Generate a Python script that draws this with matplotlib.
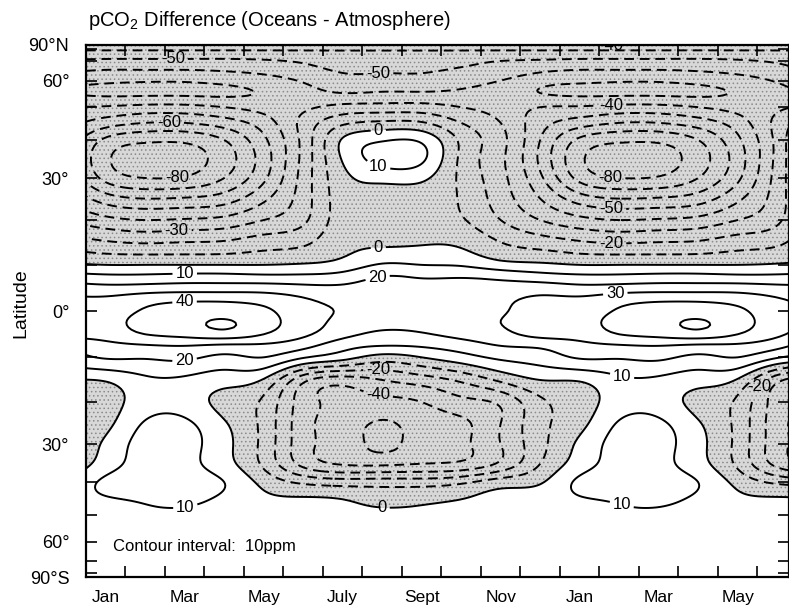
import sys
import numpy as np
import matplotlib
matplotlib.use("Agg")
import matplotlib.pyplot as plt

plt.rcParams["font.family"] = ["Liberation Sans", "DejaVu Sans"]
plt.rcParams["mathtext.fontset"] = "custom"
plt.rcParams["mathtext.rm"] = "Liberation Sans"
plt.rcParams["hatch.color"] = "#8a8a8a"
plt.rcParams["hatch.linewidth"] = 0.6

# latitude rows (deg), monthly climatology columns (mid-month), ppm
lats = [90, 85, 80, 75, 70, 65, 60, 55,
        50, 45, 40, 35, 30, 25, 20, 15,
        10, 7.5, 5, 2.5, 0, -2.5, -5, -7.5, -10,
        -15, -20, -25, -30, -35, -40, -45, -50, -55, -60, -70, -80, -90]

jan = [-38, -44, -48, -53, -48, -40, -32, -28,
       -41, -55, -72, -78, -73, -55, -37, -19,
       0, 12, 23, 32, 36, 37, 34, 27, 21,
       1, -5, -3, 2, 5, 12, 9, 6, 5, 4, 3, 2, 2]
feb = [-38, -44, -48, -53, -48, -40, -31, -28,
       -43, -60, -78, -85, -80, -60, -40, -21,
       0, 12, 24, 36, 41, 43, 40, 29, 21,
       8, 5, 11, 14, 14, 14, 11, 8, 6, 5, 4, 3, 3]
mar = [-38, -44, -48, -53, -48, -40, -31, -28,
       -43, -60, -78, -84, -79, -59, -39, -20,
       0, 13, 25, 38, 45, 47, 43, 30, 22,
       8, 5, 12, 14, 13, 14, 12, 8, 6, 5, 4, 3, 3]
apr = [-38, -44, -48, -53, -48, -41, -33, -28,
       -40, -55, -70, -75, -70, -55, -37, -19,
       0, 13, 25, 38, 46, 51, 46, 28, 18,
       4, -3, 1, 3, 4, 10, 8, 6, 5, 4, 3, 2, 2]
may = [-38, -44, -48, -53, -49, -43, -36, -31,
       -36, -45, -52, -55, -52, -42, -30, -15,
       0, 12, 25, 36, 42, 44, 40, 28, 20,
       -1, -12, -13, -13, -12, -3, 2, 4, 4, 4, 3, 2, 2]
jun = [-38, -44, -48, -53, -51, -47, -41, -36,
       -32, -27, -27, -27, -26, -25, -22, -12,
       1, 12, 23, 31, 34, 35, 32, 23, 11,
       -27, -35, -36, -36, -33, -12, 1, 3, 4, 4, 3, 2, 2]
jul = [-38, -44, -48, -53, -53, -51, -47, -40,
       -27, -12, 1, 1, -3, -5, -5, -3,
       4, 14, 22, 27, 29, 27, 23, 14, 4,
       -35, -42, -45, -45, -41, -15, 0, 2, 3, 3, 3, 2, 2]
aug = [-38, -44, -48, -53, -53, -51, -47, -39,
       -26, -8, 9, 14, 3, -5, -6, -2,
       11, 20, 24, 26, 25, 23, 18, 10, -4,
       -30, -43, -51, -52, -42, -15, -3, 2, 3, 3, 3, 2, 2]
sep = [-38, -44, -48, -53, -53, -51, -47, -39,
       -26, -9, 8, 12, 2, -5, -6, -1,
       10, 19, 23, 26, 26, 24, 19, 11, 0,
       -25, -40, -46, -46, -40, -15, -2, 2, 3, 3, 3, 2, 2]
octo = [-38, -44, -48, -53, -52, -49, -44, -38,
        -30, -20, -12, -12, -12, -11, -9, -2,
        9, 19, 24, 27, 28, 27, 23, 15, 6,
        -18, -33, -42, -42, -38, -12, 0, 3, 3, 3, 3, 2, 2]
nov = [-38, -44, -48, -53, -50, -46, -40, -35,
       -34, -30, -27, -28, -27, -25, -20, -10,
       4, 17, 24, 28, 29, 30, 27, 20, 12,
       -8, -28, -30, -30, -28, -5, 3, 5, 5, 4, 3, 2, 2]
dec = [-38, -44, -48, -53, -49, -42, -34, -30,
       -40, -46, -50, -52, -48, -40, -30, -15,
       2, 14, 25, 32, 35, 36, 33, 22, 15,
       0, -12, -13, -13, -10, -1, 5, 6, 5, 4, 3, 2, 2]

months = [jan, feb, mar, apr, may, jun, jul, aug, sep, octo, nov, dec]

tick_names = ["Jan", "Mar", "May", "July", "Sept", "Nov", "Jan", "Mar", "May"]
lat_labels = ["90°S", "60°", "30°", "0°", "30°", "60°", "90°N"]

# where the contour labels sit: (month position, latitude)
neg_spots = [(2.2, 68), (7.4, 64), (13.3, 87), (2.1, 45), (2.3, 31),
             (13.3, 51), (13.3, 33), (13.3, 23), (13.3, 15), (2.3, 17),
             (7.4, -13), (7.4, -18), (17.0, -16)]
pos_spots = [(7.4, 43), (7.4, 33), (7.4, 14), (2.5, 8), (7.4, 6.5), (13.4, 4),
             (2.5, 1), (2.5, -11), (13.6, -13), (2.5, -46), (7.5, -47), (13.6, -45)]


def nat_spline(x, y, xn):
    x = np.asarray(x, float)
    y = np.asarray(y, float)
    n = len(x)
    h = np.diff(x)
    A = np.zeros((n, n))
    r = np.zeros_like(y)
    A[0, 0] = A[-1, -1] = 1.0
    for i in range(1, n - 1):
        A[i, i - 1] = h[i - 1]
        A[i, i] = 2 * (h[i - 1] + h[i])
        A[i, i + 1] = h[i]
        r[i] = 6 * ((y[i + 1] - y[i]) / h[i] - (y[i] - y[i - 1]) / h[i - 1])
    M = np.linalg.solve(A, r)
    k = np.clip(np.searchsorted(x, xn) - 1, 0, n - 2)
    hk = (x[k + 1] - x[k])[:, None]
    a = ((x[k + 1] - xn) / hk[:, 0])[:, None]
    b = ((xn - x[k]) / hk[:, 0])[:, None]
    return a * y[k] + b * y[k + 1] + ((a ** 3 - a) * M[k] + (b ** 3 - b) * M[k + 1]) * hk ** 2 / 6


Z = np.array(months).T  # (lat, month)
ext = np.arange(-1, 20)
t_nodes = ext + 0.5
Zext = Z[:, ext % 12]

lat_arr = np.array(lats, float)[::-1]
Zext = Zext[::-1]

latf = np.linspace(-90, 90, 361)
tf = np.linspace(0, 17.8, 500)
Zl = nat_spline(lat_arr, Zext, latf)
Zf = nat_spline(t_nodes, Zl.T, tf).T
yf = np.sin(np.radians(latf))

fig = plt.figure(figsize=(7.89, 6.07), dpi=100)
ax = fig.add_axes([0.109, 0.049, 0.891, 0.877])

ax.contourf(tf, yf, Zf, levels=[-500, 0], colors=["#d8d8d8"], hatches=["...."])
cs_neg = ax.contour(tf, yf, Zf, levels=np.arange(-90, 0, 10), colors="k",
                    linewidths=1.4, linestyles=[(0, (5, 3))])
cs_pos = ax.contour(tf, yf, Zf, levels=np.arange(0, 60, 10), colors="k",
                    linewidths=1.4, linestyles="solid")

ax.set_xlim(0, 17.8)
ax.set_ylim(-1, 1)

for cs, spots in ((cs_neg, neg_spots), (cs_pos, pos_spots)):
    pts = [(t, np.sin(np.radians(la))) for t, la in spots]
    try:
        labels = ax.clabel(cs, manual=pts, inline=True, fmt="%d", fontsize=12,
                           inline_spacing=3)
        for lab in labels:
            lab.set_rotation(0)
    except Exception as e:
        print("clabel failed:", e, file=sys.stderr)

ax.set_xticks(np.arange(1, 18))
ax.set_xticklabels([])
ax.set_xticks(np.arange(0.5, 17, 2), minor=True)
ax.set_xticklabels(tick_names, minor=True, fontsize=12.5)
ax.tick_params(axis="x", which="major", direction="in", length=8, width=1.2,
               top=True, bottom=True)
ax.tick_params(axis="x", which="minor", length=0, pad=9)

ax.set_yticks(np.sin(np.radians([-90, -60, -30, 0, 30, 60, 90])))
ax.set_yticklabels(lat_labels, fontsize=13)
ax.set_yticks(np.sin(np.radians(np.arange(-80, 90, 10))), minor=True)
ax.tick_params(axis="y", which="both", direction="in", length=8, width=1.2,
               left=True, right=True, pad=12)

for s in ax.spines.values():
    s.set_linewidth(1.6)

ax.text(0.038, 0.058, "Contour interval:  10ppm", transform=ax.transAxes,
        fontsize=12, va="center", ha="left")

fig.text(0.112, 0.967, "pCO$_2$ Difference (Oceans - Atmosphere)", fontsize=14.5,
         ha="left", va="center")
fig.text(0.027, 0.5, "Latitude", rotation=90, fontsize=14, ha="center", va="center")

fig.savefig("out.png", dpi=100)
